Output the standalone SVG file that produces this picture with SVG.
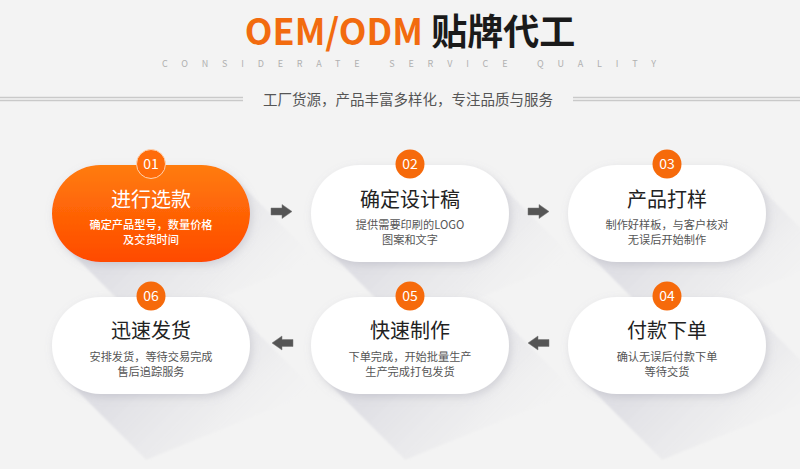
<svg xmlns="http://www.w3.org/2000/svg" width="800" height="469" viewBox="0 0 800 469">
<defs>
<style>
.t{font-family:"Noto Sans CJK SC","Noto Sans",sans-serif}
.ttl{font-size:20px;fill:#222;text-anchor:middle}
.sub{font-size:11.2px;fill:#555;text-anchor:middle}
.num{font-size:14px;fill:#fff;text-anchor:middle}
.pill{fill:#fff}
.dot{fill:#f66a0b}
.ls{fill:url(#lsg)}
.arr{fill:#555;stroke:#777;stroke-width:0.5}
.hl{stroke:#c9c9c9;stroke-width:1.5;fill:none}
</style>
<linearGradient id="lsg" gradientUnits="userSpaceOnUse" x1="80" y1="80" x2="180" y2="180">
<stop offset="0" stop-color="#e0e0e5" stop-opacity="1"/>
<stop offset="0.5" stop-color="#e6e6e9" stop-opacity="0.6"/>
<stop offset="1" stop-color="#efeff0" stop-opacity="0"/>
</linearGradient>
<linearGradient id="og" x1="0" y1="0" x2="0" y2="1">
<stop offset="0" stop-color="#ff7c0c"/>
<stop offset="1" stop-color="#ff4a00"/>
</linearGradient>
<filter id="ds" x="-20%" y="-30%" width="140%" height="160%">
<feDropShadow dx="2" dy="3" stdDeviation="4" flood-color="#8a8a9a" flood-opacity="0.28"/>
</filter>
<filter id="soft" x="-10%" y="-10%" width="120%" height="120%">
<feGaussianBlur stdDeviation="1.2"/>
</filter>
<path id="lshape" d="M183.8,14.2 L263.8,94.2 L94.2,162.8 L14.2,82.8 Z"/>
<path id="arrow" d="M0,-3.5 H11 V-7 L21,0 L11,7 V3.5 H0 Z"/>
</defs>
<rect width="800" height="469" fill="#f3f3f3"/>

<g id="header">
<text class="t" x="410" y="45" text-anchor="middle" font-size="36" font-weight="bold"><tspan fill="#f26b0f">OEM/ODM</tspan><tspan fill="#1a1a1a"> 贴牌代工</tspan></text>
<text class="t" x="162" y="67" font-size="9" fill="#b0b0b0" textLength="494" lengthAdjust="spacing">CONSIDERATE SERVICE QUALITY</text>
<line class="hl" x1="0" y1="97.5" x2="243" y2="97.5"/>
<line class="hl" x1="0" y1="100.5" x2="243" y2="100.5"/>
<line class="hl" x1="573" y1="97.5" x2="800" y2="97.5"/>
<line class="hl" x1="573" y1="100.5" x2="800" y2="100.5"/>
<text class="t" x="408" y="104.5" text-anchor="middle" font-size="14.5" fill="#555">工厂货源，产品丰富多样化，专注品质与服务</text>
</g>

<g id="node1" transform="translate(52,165)">
<use href="#lshape" class="ls" filter="url(#soft)"/>
<rect width="198" height="97" rx="48.5" fill="url(#og)" filter="url(#ds)"/>
<circle cx="99" cy="-1" r="14.5" fill="#ff6c0a" stroke="#ffd2b0" stroke-width="1"/>
<text class="t num" x="99" y="4">01</text>
<text class="t ttl" x="99" y="42" style="fill:#fff">进行选款</text>
<text class="t sub" x="99" y="63.5" style="fill:#fff;font-weight:500">确定产品型号，数量价格</text>
<text class="t sub" x="99" y="79" style="fill:#fff;font-weight:500">及交货时间</text>
</g>

<g id="node2" transform="translate(311,165)">
<use href="#lshape" class="ls" filter="url(#soft)"/>
<rect class="pill" width="198" height="97" rx="48.5" filter="url(#ds)"/>
<circle class="dot" cx="99" cy="-1" r="14.5"/>
<text class="t num" x="99" y="4">02</text>
<text class="t ttl" x="99" y="42">确定设计稿</text>
<text class="t sub" x="99" y="63.5">提供需要印刷的LOGO</text>
<text class="t sub" x="99" y="79">图案和文字</text>
</g>

<g id="node3" transform="translate(568,165)">
<use href="#lshape" class="ls" filter="url(#soft)"/>
<rect class="pill" width="198" height="97" rx="48.5" filter="url(#ds)"/>
<circle class="dot" cx="99" cy="-1" r="14.5"/>
<text class="t num" x="99" y="4">03</text>
<text class="t ttl" x="99" y="42">产品打样</text>
<text class="t sub" x="99" y="63.5">制作好样板，与客户核对</text>
<text class="t sub" x="99" y="79">无误后开始制作</text>
</g>

<g id="node4" transform="translate(568,297)">
<use href="#lshape" class="ls" filter="url(#soft)"/>
<rect class="pill" width="198" height="97" rx="48.5" filter="url(#ds)"/>
<circle class="dot" cx="99" cy="-1" r="14.5"/>
<text class="t num" x="99" y="4">04</text>
<text class="t ttl" x="99" y="41">付款下单</text>
<text class="t sub" x="99" y="63.5">确认无误后付款下单</text>
<text class="t sub" x="99" y="79">等待交货</text>
</g>

<g id="node5" transform="translate(311,297)">
<use href="#lshape" class="ls" filter="url(#soft)"/>
<rect class="pill" width="198" height="97" rx="48.5" filter="url(#ds)"/>
<circle class="dot" cx="99" cy="-1" r="14.5"/>
<text class="t num" x="99" y="4">05</text>
<text class="t ttl" x="99" y="41">快速制作</text>
<text class="t sub" x="99" y="63.5">下单完成，开始批量生产</text>
<text class="t sub" x="99" y="79">生产完成打包发货</text>
</g>

<g id="node6" transform="translate(52,297)">
<use href="#lshape" class="ls" filter="url(#soft)"/>
<rect class="pill" width="198" height="97" rx="48.5" filter="url(#ds)"/>
<circle class="dot" cx="99" cy="-1" r="14.5"/>
<text class="t num" x="99" y="4">06</text>
<text class="t ttl" x="99" y="41">迅速发货</text>
<text class="t sub" x="99" y="63.5">安排发货，等待交易完成</text>
<text class="t sub" x="99" y="79">售后追踪服务</text>
</g>

<g id="connectors">
<use href="#arrow" class="arr" transform="translate(271,211.5)"/>
<use href="#arrow" class="arr" transform="translate(528,211.5)"/>
<use href="#arrow" class="arr" transform="translate(549,343) scale(-1,1)"/>
<use href="#arrow" class="arr" transform="translate(293,343) scale(-1,1)"/>
</g>
</svg>
